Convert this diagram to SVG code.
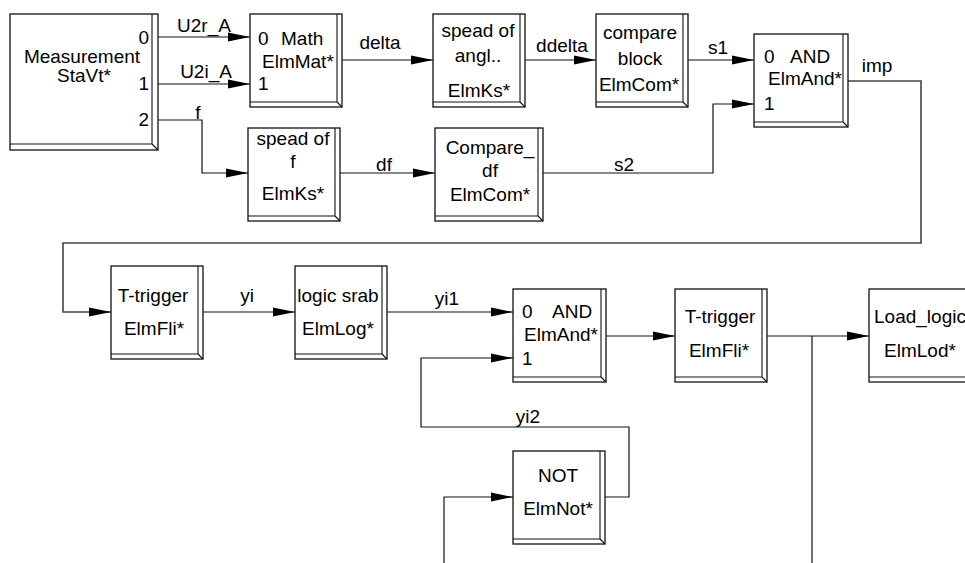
<svg xmlns="http://www.w3.org/2000/svg" width="965" height="563" viewBox="0 0 965 563">
<style>
text{font-family:"Liberation Sans",Arial,sans-serif;font-size:19px;fill:#000}
.m{text-anchor:middle}
.e{text-anchor:end}
.box{fill:#fff;stroke:#111;stroke-width:1.3}
.sh{fill:none;stroke:#111;stroke-width:1.1}
.c{fill:none;stroke:#111;stroke-width:1.2}
.g{fill:none;stroke:#444;stroke-width:1.6}
</style>
<defs>
<marker id="a" markerUnits="userSpaceOnUse" markerWidth="22" markerHeight="10" viewBox="0 0 22 10" refX="22" refY="5" orient="auto">
<path d="M0,0.5 L22,5 L0,9.5 z" fill="#000"/>
</marker>
</defs>

<g id="connectors">
<path class="c" d="M158,37 H250" marker-end="url(#a)"/>
<path class="c" d="M158,84 H250" marker-end="url(#a)"/>
<path class="c" d="M158,120 H202 V173 H248" marker-end="url(#a)"/>
<path class="c" d="M342,60 H433" marker-end="url(#a)"/>
<path class="c" d="M525,60 H596" marker-end="url(#a)"/>
<path class="c" d="M688,60 H754" marker-end="url(#a)"/>
<path class="c" d="M340,173 H435" marker-end="url(#a)"/>
<path class="c" d="M543,173 H713 V104 H754" marker-end="url(#a)"/>
<path class="g" d="M848,81 H921 V243 H63 V312 H111" marker-end="url(#a)"/>
<path class="c" d="M203,312 H295" marker-end="url(#a)"/>
<path class="c" d="M387,312 H513" marker-end="url(#a)"/>
<path class="c" d="M606,336 H675" marker-end="url(#a)"/>
<path class="c" d="M767,336 H869" marker-end="url(#a)"/>
<path class="c" d="M812,336 V563"/>
<path class="c" d="M444,563 V497 H513" marker-end="url(#a)"/>
<path class="c" d="M605,497 H629 V427 H421 V358 H513" marker-end="url(#a)"/>
<text class="m" x="204" y="32">U2r_A</text>
<text class="m" x="206" y="78">U2i_A</text>
<text class="m" x="198" y="119">f</text>
<text class="m" x="380" y="49">delta</text>
<text class="m" x="562" y="52">ddelta</text>
<text class="m" x="718" y="54">s1</text>
<text class="m" x="384" y="171">df</text>
<text class="m" x="624" y="171">s2</text>
<text class="m" x="877" y="72">imp</text>
<text class="m" x="247" y="302">yi</text>
<text class="m" x="447" y="305">yi1</text>
<text class="m" x="528" y="423">yi2</text>
</g>

<g id="measurement">
<rect class="box" x="10" y="14" width="148" height="136"/>
<path class="sh" d="M152,14 V144 H10 M152,144 L158,150"/>
<text class="m" x="82" y="63">Measurement</text>
<text class="m" x="84" y="82">StaVt*</text>
<text class="e" x="149" y="44">0</text>
<text class="e" x="149" y="90">1</text>
<text class="e" x="149" y="126">2</text>
</g>

<g id="math">
<rect class="box" x="250" y="14" width="92" height="93"/>
<path class="sh" d="M337,14 V102 H250 M337,102 L342,107"/>
<text x="258" y="45">0</text>
<text x="281" y="45">Math</text>
<text x="262" y="68">ElmMat*</text>
<text x="258" y="90">1</text>
</g>

<g id="spead_angl">
<rect class="box" x="433" y="14" width="92" height="93"/>
<path class="sh" d="M520,14 V102 H433 M520,102 L525,107"/>
<text class="m" x="478" y="37">spead of</text>
<text class="m" x="478" y="62">angl..</text>
<text class="m" x="479" y="97">ElmKs*</text>
</g>

<g id="compare_block">
<rect class="box" x="596" y="14" width="92" height="93"/>
<path class="sh" d="M683,14 V102 H596 M683,102 L688,107"/>
<text class="m" x="640" y="39">compare</text>
<text class="m" x="640" y="65">block</text>
<text class="m" x="639" y="91">ElmCom*</text>
</g>

<g id="and1">
<rect class="box" x="754" y="34" width="94" height="93"/>
<path class="sh" d="M843,34 V122 H754 M843,122 L848,127"/>
<text x="764" y="63">0</text>
<text x="790" y="63">AND</text>
<text x="768" y="85">ElmAnd*</text>
<text x="764" y="110">1</text>
</g>

<g id="spead_f">
<rect class="box" x="248" y="128" width="92" height="93"/>
<path class="sh" d="M335,128 V216 H248 M335,216 L340,221"/>
<text class="m" x="293" y="145">spead of</text>
<text class="m" x="293" y="168">f</text>
<text class="m" x="293" y="200">ElmKs*</text>
</g>

<g id="compare_df">
<rect class="box" x="435" y="128" width="108" height="93"/>
<path class="sh" d="M538,128 V216 H435 M538,216 L543,221"/>
<text class="m" x="490" y="154">Compare_</text>
<text class="m" x="490" y="177">df</text>
<text class="m" x="490" y="201">ElmCom*</text>
</g>

<g id="ttrigger1">
<rect class="box" x="111" y="266" width="92" height="93"/>
<path class="sh" d="M198,266 V354 H111 M198,354 L203,359"/>
<text class="m" x="153" y="302">T-trigger</text>
<text class="m" x="154" y="335">ElmFli*</text>
</g>

<g id="logic_srab">
<rect class="box" x="295" y="266" width="92" height="93"/>
<path class="sh" d="M382,266 V354 H295 M382,354 L387,359"/>
<text class="m" x="338" y="302">logic srab</text>
<text class="m" x="338" y="335">ElmLog*</text>
</g>

<g id="and2">
<rect class="box" x="513" y="289" width="93" height="93"/>
<path class="sh" d="M601,289 V377 H513 M601,377 L606,382"/>
<text x="522" y="318">0</text>
<text x="552" y="318">AND</text>
<text x="524" y="341">ElmAnd*</text>
<text x="522" y="365">1</text>
</g>

<g id="ttrigger2">
<rect class="box" x="675" y="289" width="92" height="93"/>
<path class="sh" d="M762,289 V377 H675 M762,377 L767,382"/>
<text class="m" x="720" y="323">T-trigger</text>
<text class="m" x="719" y="357">ElmFli*</text>
</g>

<g id="load_logic">
<rect class="box" x="869" y="289" width="110" height="93"/>
<path class="sh" d="M974,289 V377 H869"/>
<text class="m" x="920" y="323">Load_logic</text>
<text class="m" x="920" y="357">ElmLod*</text>
</g>

<g id="not">
<rect class="box" x="513" y="451" width="92" height="93"/>
<path class="sh" d="M600,451 V539 H513 M600,539 L605,544"/>
<text class="m" x="558" y="482">NOT</text>
<text class="m" x="558" y="515">ElmNot*</text>
</g>
</svg>
